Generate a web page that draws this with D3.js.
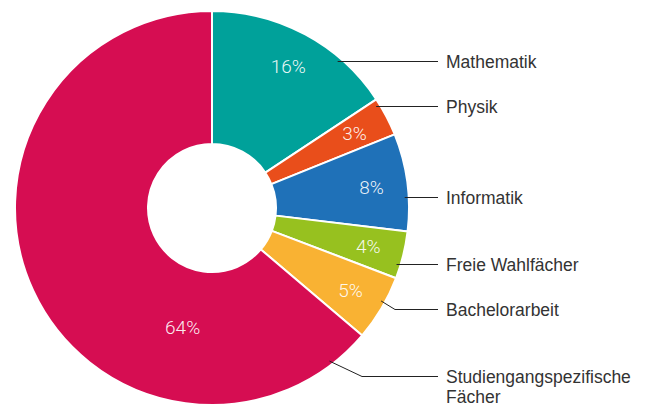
<!DOCTYPE html>
<meta charset="utf-8">
<style>
html, body { margin: 0; background: #fff; overflow: hidden; }
.pct { font-family: Roboto, "Liberation Sans", Arial, sans-serif; font-weight: 300; font-size: 19px; fill: #fff; fill-opacity: 0.92; }
.name { font-family: "Liberation Sans", Arial, sans-serif; font-size: 17.5px; fill: #333; }
.leader { fill: none; stroke: #222; stroke-width: 1; }
</style>
<body>
<script src="https://d3js.org/d3.v7.min.js"></script>
<script>

// data
var categories = ["Mathematik", "Physik", "Informatik", "Freie Wahlfächer", "Bachelorarbeit", "Studiengangspezifische Fächer"];
var shares = [15.7, 3.2, 8.0, 3.9, 5.4, 63.8];
var colors = ["#00a19a", "#e94e1b", "#1f71b8", "#97c11f", "#f9b233", "#d60d52"];

// layout
var width = 651, height = 408,
  cx = 212, cy = 208,
  outerR = 197, innerR = 64,
  labelR = 161,
  lineEndX = 438, textX = 446;

// y of each leader line, plus bent ones get start angle + elbow x
var leaders = [
  {y: 61}, {y: 106}, {y: 197}, {y: 264},
  {y: 309, a: 118.8, ex: 395},
  {y: 376, a: 142.5, ex: 362}
];

var svg = d3.select("body").append("svg")
  .attr("width", width)
  .attr("height", height);

var g = svg.append("g").attr("transform", "translate(" + cx + "," + cy + ")");

var pie = d3.pie().sort(null).value(function(d) { return d; });
var arcs = pie(shares);

var arc = d3.arc().innerRadius(innerR).outerRadius(outerR);

g.selectAll("path.slice")
  .data(arcs)
  .enter().append("path")
  .attr("class", "slice")
  .attr("d", arc)
  .attr("fill", function(d, i) { return colors[i]; })
  .attr("stroke", "#fff")
  .attr("stroke-width", 2)
  .attr("stroke-linejoin", "round");

function polar(angle, r) {
  return [r * Math.sin(angle), -r * Math.cos(angle)];
}

// percent labels
g.selectAll("text.pct")
  .data(arcs)
  .enter().append("text")
  .attr("class", "pct")
  .attr("text-anchor", "middle")
  .attr("dy", "0.36em")
  .attr("transform", function(d) {
    var p;
    if (d.endAngle - d.startAngle > Math.PI) {
      // big slice: label sits lower-left, not at its mid angle
      p = polar(d.startAngle + 63.5 * Math.PI / 180, 123);
    } else {
      p = polar((d.startAngle + d.endAngle) / 2, labelR);
    }
    return "translate(" + p[0] + "," + p[1] + ")";
  })
  .text(function(d) { return Math.round(d.value) + "%"; });

// leader lines (half-pixel offset keeps the horizontals sharp)
var lr = outerR - 4;
svg.selectAll("path.leader")
  .data(leaders)
  .enter().append("path")
  .attr("class", "leader")
  .attr("d", function(l) {
    var y = l.y + 0.5, ly = y - cy;
    if (l.a != null) {
      var s = polar(l.a * Math.PI / 180, lr);
      return "M" + (cx + s[0]) + "," + (cy + s[1]) + "L" + l.ex + "," + y + "L" + lineEndX + "," + y;
    }
    var sx = cx + Math.sqrt(lr * lr - ly * ly);
    return "M" + sx + "," + y + "L" + lineEndX + "," + y;
  });

// category labels
svg.selectAll("text.name")
  .data(categories)
  .enter().append("text")
  .attr("class", "name")
  .attr("x", textX)
  .attr("y", function(d, i) { return leaders[i].y + 6.5; })
  .each(function(d) {
    var words = d.split(" ");
    var t = d3.select(this);
    if (d.length > 20) {
      t.append("tspan").attr("x", textX).text(words[0]);
      t.append("tspan").attr("x", textX).attr("dy", 20).text(words.slice(1).join(" "));
    } else {
      t.text(d);
    }
  });

</script>
